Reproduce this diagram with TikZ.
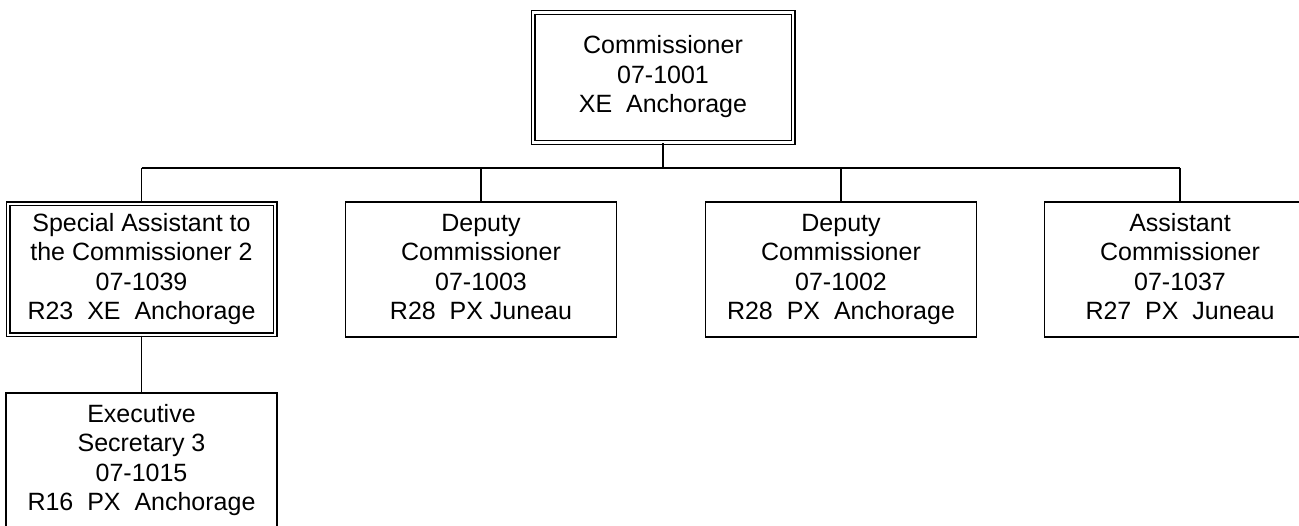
\documentclass[tikz,border=0pt]{standalone}
\usepackage{fontspec}
\setmainfont{Liberation Sans}

\tikzset{
    puesto/.style={draw, line width=1.4pt, align=center, inner sep=0pt,
        minimum width=271pt, minimum height=135pt,
        font=\fontsize{25pt}{29.5pt}\selectfont},
    puestodoble/.style={puesto, line width=1.2pt, double, double distance=2.6pt,
        minimum width=267pt, minimum height=131pt},
    enlace/.style={line width=1.4pt}
}

\begin{document}
\begin{tikzpicture}[x=1pt, y=1pt]
        % Marco de la figura.
        \useasboundingbox (0,0) rectangle (1299,525);

        % Puesto principal.
        \node[puestodoble, minimum width=260pt, minimum height=130pt] (comm) at (663,447.5)
            {\strut Commissioner\\07-1001\\\strut XE\ \ Anchorage};

        % Puestos que dependen del principal.
        \node[puestodoble] (spa) at (141.5,255.5)
            {\strut Special Assistant to\\the Commissioner 2\\07-1039\\\strut R23\ \ XE\ \ Anchorage};
        \node[puesto] (dep1) at (481,255.5)
            {\strut Deputy\\Commissioner\\07-1003\\\strut R28\ \ PX Juneau};
        \node[puesto] (dep2) at (841,255.5)
            {\strut Deputy\\Commissioner\\07-1002\\\strut R28\ \ PX\ \ Anchorage};
        \node[puesto] (asst) at (1180,255.5)
            {\strut Assistant\\Commissioner\\07-1037\\\strut R27\ \ PX\ \ Juneau};

        % Puesto bajo el asistente especial.
        \node[puesto] (sec) at (141.5,64.5)
            {\strut Executive\\Secretary 3\\07-1015\\\strut R16\ \ PX\ \ Anchorage};

        % Barra horizontal y enlaces.
        \coordinate (barra) at (0,357);
        \draw[enlace] (comm.south) -- (comm.south |- barra);
        \draw[enlace] (spa.north |- barra) -- (asst.north |- barra);
        \draw[enlace] (spa.north |- barra) -- (spa.north);
        \draw[enlace] (dep1.north |- barra) -- (dep1.north);
        \draw[enlace] (dep2.north |- barra) -- (dep2.north);
        \draw[enlace] (asst.north |- barra) -- (asst.north);
        \draw[enlace] (spa.south) -- (sec.north);
    \end{tikzpicture}
\end{document}
